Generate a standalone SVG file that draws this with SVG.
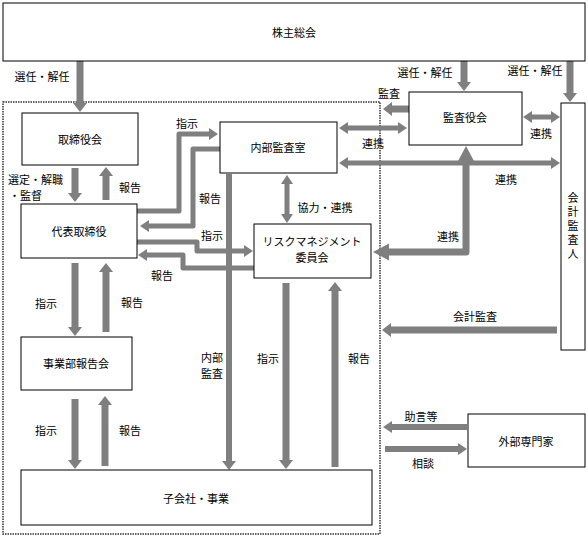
<svg xmlns="http://www.w3.org/2000/svg" width="588" height="536" viewBox="0 0 588 536">
<style>
.box{fill:#fff;stroke:#000;stroke-width:1}
.t{font-family:"Noto Sans CJK JP","Noto Sans",sans-serif;font-size:11px;fill:#000;text-anchor:middle;dominant-baseline:central}
.ts{font-family:"Noto Sans CJK JP","Noto Sans",sans-serif;font-size:11px;fill:#000;text-anchor:start;dominant-baseline:central}
.tv{font-family:"Noto Sans CJK JP","Noto Sans",sans-serif;font-size:11px;fill:#000;text-anchor:middle;writing-mode:vertical-rl;letter-spacing:3px}
.a7{fill:none;stroke:#7f7f7f;stroke-width:7}
.a6{fill:none;stroke:#7f7f7f;stroke-width:6}
.a5{fill:none;stroke:#7f7f7f;stroke-width:5}
.border{fill:none;stroke:#333;stroke-width:1.5;stroke-dasharray:1.5 1}
</style>
<defs>
<marker id="m" markerUnits="userSpaceOnUse" markerWidth="10" markerHeight="14" refX="0" refY="7" orient="auto-start-reverse" overflow="visible"><path d="M0,0 L9,7 L0,14 z" fill="#7f7f7f"/></marker>
<marker id="s" markerUnits="userSpaceOnUse" markerWidth="10" markerHeight="12" refX="0" refY="6" orient="auto-start-reverse" overflow="visible"><path d="M0,0 L9,6 L0,12 z" fill="#7f7f7f"/></marker>
<marker id="L" markerUnits="userSpaceOnUse" markerWidth="17" markerHeight="17" refX="0" refY="8.5" orient="auto-start-reverse" overflow="visible"><path d="M0,0 L16,8.5 L0,17 z" fill="#7f7f7f"/></marker>
</defs>

<rect class="border" x="3" y="102" width="377" height="432"/>

<g id="connectors">
<path class="a7" d="M80,61 V103" marker-end="url(#m)"/>
<path class="a7" d="M464,61 V82" marker-end="url(#m)"/>
<path class="a7" d="M570,61 V93" marker-end="url(#m)"/>
<path class="a7" d="M409,109 H392" marker-end="url(#m)"/>
<path class="a5" d="M532,117 H551" marker-start="url(#s)" marker-end="url(#s)"/>
<path class="a5" d="M348,128 H398" marker-start="url(#s)" marker-end="url(#s)"/>
<path class="a5" d="M348,163 H551" marker-start="url(#s)" marker-end="url(#s)"/>
<path class="a7" d="M466,162 V252 H389" stroke-linejoin="round" marker-start="url(#L)" marker-end="url(#L)"/>
<path class="a7" d="M557,330 H391" marker-end="url(#m)"/>
<path class="a6" d="M467,427 H392" marker-end="url(#s)"/>
<path class="a6" d="M385,449 H458" marker-end="url(#s)"/>

<path class="a7" d="M75,168 V193" marker-end="url(#m)"/>
<path class="a7" d="M106,200 V176" marker-end="url(#m)"/>
<path class="a7" d="M75,263 V327" marker-end="url(#m)"/>
<path class="a7" d="M106,332 V272" marker-end="url(#m)"/>
<path class="a7" d="M75,399 V460" marker-end="url(#m)"/>
<path class="a7" d="M105,466 V405" marker-end="url(#m)"/>

<path class="a5" d="M137,211 H179 V134 H209" stroke-linejoin="round" marker-end="url(#s)"/>
<path class="a5" d="M220,149 H193 V226 H149" stroke-linejoin="round" marker-end="url(#s)"/>
<path class="a5" d="M137,242 H197 V251 H244" stroke-linejoin="round" marker-end="url(#s)"/>
<path class="a5" d="M254,268 H183 V255 H147" stroke-linejoin="round" marker-end="url(#s)"/>
<path class="a5" d="M287,184 V214" marker-start="url(#s)" marker-end="url(#s)"/>
<path class="a7" d="M286,283 V460" marker-end="url(#m)"/>
<path class="a7" d="M335,467 V291" marker-end="url(#m)"/>
<path class="a6" d="M229,174 V461" marker-end="url(#m)"/>

<text class="t" x="42" y="76">選任・解任</text>
<text class="t" x="425" y="72">選任・解任</text>
<text class="t" x="535" y="70">選任・解任</text>
<text class="t" x="389" y="93">監査</text>
<text class="t" x="187" y="123">指示</text>
<text class="ts" x="8" y="179">選定・解職</text>
<text class="ts" x="9" y="195">・監督</text>
<text class="t" x="130" y="187">報告</text>
<text class="t" x="210" y="198">報告</text>
<text class="t" x="212" y="235">指示</text>
<text class="t" x="162" y="275">報告</text>
<text class="t" x="325" y="207">協力・連携</text>
<text class="t" x="373" y="143">連携</text>
<text class="t" x="541" y="133">連携</text>
<text class="t" x="506" y="179">連携</text>
<text class="t" x="448" y="236">連携</text>
<text class="t" x="475" y="316">会計監査</text>
<text class="t" x="421" y="416">助言等</text>
<text class="t" x="423" y="463">相談</text>
<text class="t" x="46" y="303">指示</text>
<text class="t" x="132" y="302">報告</text>
<text class="t" x="46" y="430">指示</text>
<text class="t" x="130" y="430">報告</text>
<text class="t" x="212" y="357">内部</text>
<text class="t" x="212" y="373">監査</text>
<text class="t" x="268" y="358">指示</text>
<text class="t" x="359" y="358">報告</text>
</g>

<g id="n-shareholders"><rect class="box" x="3" y="3" width="582" height="58"/><text class="t" x="294" y="32">株主総会</text></g>
<g id="n-board"><rect class="box" x="22" y="113" width="116" height="52"/><text class="t" x="80" y="139">取締役会</text></g>
<g id="n-ceo"><rect class="box" x="21" y="204" width="116" height="54"/><text class="t" x="79" y="231">代表取締役</text></g>
<g id="n-internal-audit"><rect class="box" x="220" y="122" width="117" height="51"/><text class="t" x="278" y="147">内部監査室</text></g>
<g id="n-risk"><rect class="box" x="254" y="224" width="117" height="54"/><text class="t" x="312" y="241">リスクマネジメント</text><text class="t" x="312" y="257">委員会</text></g>
<g id="n-auditors"><rect class="box" x="409" y="92" width="113" height="53"/><text class="t" x="465" y="117">監査役会</text></g>
<g id="n-accounting-auditor"><rect class="box" x="561" y="103" width="24" height="247"/>
<text class="tv" x="573" y="227">会計監査人</text></g>
<g id="n-division"><rect class="box" x="21" y="337" width="111" height="53"/><text class="t" x="76" y="363">事業部報告会</text></g>
<g id="n-subsidiaries"><rect class="box" x="21" y="470" width="351" height="55"/><text class="t" x="196" y="498">子会社・事業</text></g>
<g id="n-experts"><rect class="box" x="468" y="414" width="117" height="53"/><text class="t" x="526" y="441">外部専門家</text></g>
</svg>
